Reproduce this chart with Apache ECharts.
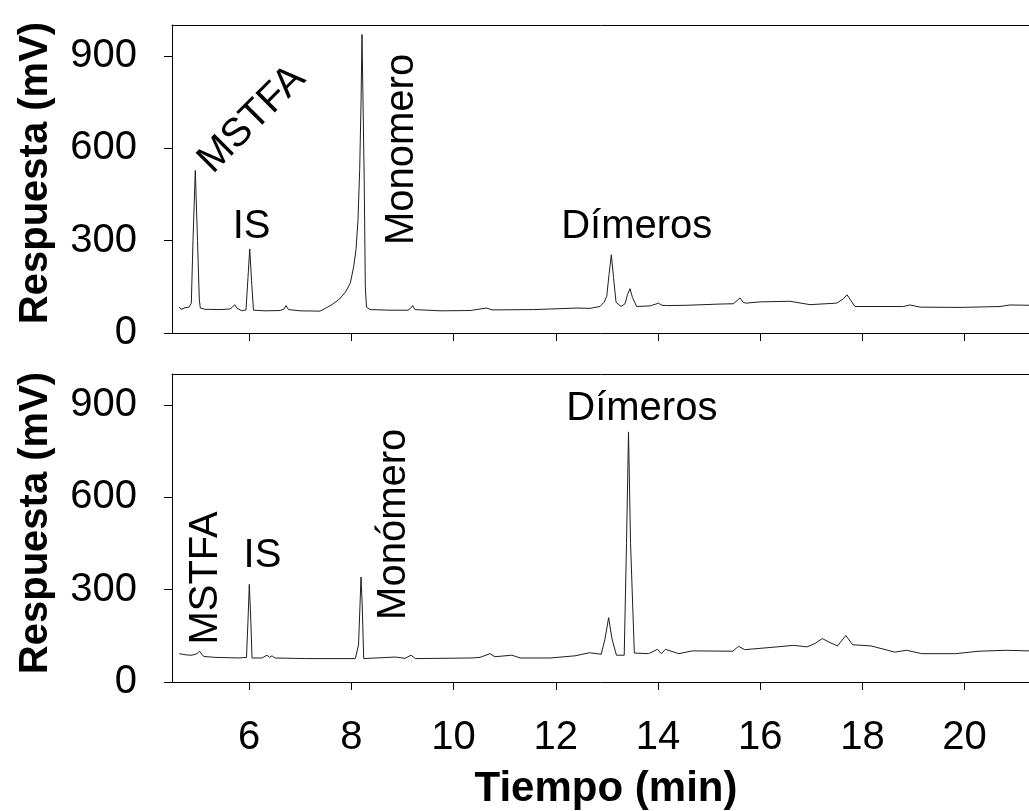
<!DOCTYPE html>
<html><head><meta charset="utf-8">
<script src="https://cdn.jsdelivr.net/npm/echarts@6/dist/echarts.min.js"></script>
<style>html,body{margin:0;padding:0;background:#fff}#c{width:1029px;height:811px}</style>
</head><body><div id="c"></div>
<script>
// ---- data (time in min, response in mV) ----
const topTime = [4.633,4.666,4.744,4.823,4.868,4.901,4.946,4.989,5.024,5.044,5.136,5.429,5.625,5.674,5.717,5.762,5.860,5.938,5.977,6.011,6.046,6.085,6.310,6.604,6.682,6.721,6.770,6.995,7.386,7.490,7.621,7.752,7.881,7.979,8.046,8.091,8.130,8.163,8.189,8.208,8.224,8.251,8.273,8.296,8.365,8.756,9.108,9.157,9.200,9.245,9.734,10.322,10.648,10.752,11.560,12.410,12.670,12.866,12.944,12.997,13.042,13.087,13.130,13.179,13.277,13.355,13.404,13.452,13.501,13.583,13.844,13.942,14.007,14.079,14.171,14.563,15.214,15.474,15.547,15.605,15.664,15.723,15.997,16.584,16.975,17.498,17.621,17.699,17.777,17.855,18.345,18.801,18.932,19.128,19.911,20.694,20.889,21.261];
const topResp = [84,77,82,84,97,300,528,300,110,81,77,76,78,84,92,80,72,75,180,273,170,74,72,73,78,89,76,72,71,80,92,108,132,162,216,271,368,531,747,969,969,500,150,84,76,74,74,80,89,76,72,73,81,75,76,81,80,86,100,119,190,254,180,100,86,95,125,144,115,86,88,93,97,90,89,90,94,95,105,114,100,97,101,103,92,97,110,124,105,86,86,86,91,84,83,86,91,90];

const bottomTime = [4.633,4.764,4.881,4.979,5.028,5.063,5.110,5.331,5.795,5.948,5.977,6.003,6.032,6.056,6.251,6.349,6.398,6.447,6.506,7.099,8.077,8.140,8.169,8.189,8.212,8.241,8.860,9.050,9.167,9.251,10.361,10.517,10.713,10.810,11.140,11.304,11.899,12.376,12.658,12.889,12.963,13.034,13.100,13.187,13.339,13.384,13.423,13.463,13.537,13.813,13.993,14.066,14.144,14.408,14.672,15.465,15.576,15.696,16.191,16.652,16.917,17.073,17.214,17.366,17.511,17.676,17.809,18.171,18.633,18.864,19.161,19.823,20.283,20.811,21.261];
const bottomResp = [92,88,87,92,100,105,83,80,78,80,200,317,200,78,78,87,80,85,78,76,76,120,250,341,250,76,81,77,87,76,78,80,92,82,87,78,78,85,95,90,140,209,140,87,87,450,812,450,94,92,106,92,106,92,101,100,116,105,112,119,114,125,141,128,117,151,121,117,97,103,92,92,100,103,101];

const xTicks = [6,8,10,12,14,16,18,20];
const yTicks = [0,300,600,900];
const X_MIN = 4.49, X_MAX = 21.26, Y_MIN = 0, Y_MAX = 1000;

const topNoteText  = ['MSTFA','IS','Monomero','Dímeros'];
const topNoteTime  = [6.056, 6.047, 8.985, 13.584];
const topNoteResp  = [693, 345, 596, 344];
const topNoteAngle = [45, 0, 90, 0];

const bottomNoteText  = ['MSTFA','IS','Monómero','Dímeros'];
const bottomNoteTime  = [5.15, 6.261, 8.834, 13.684];
const bottomNoteResp  = [338, 409, 512, 888];
const bottomNoteAngle = [90, 0, 90, 0];

const yTitle = 'Respuesta (mV)';
const xTitle = 'Tiempo (min)';

// ---- chart ----
const FONT = "'Liberation Sans', Arial, sans-serif";
const zip = (a, b) => a.map((v, i) => [v, b[i]]);

function bottomAxis(gi, labels) {
  return {
    type: 'value', gridIndex: gi, min: X_MIN, max: X_MAX, position: 'bottom',
    axisLine: { show: true, onZero: false, lineStyle: { color: '#000', width: 1 } },
    axisTick: { show: true, inside: false, length: 8, customValues: xTicks, lineStyle: { color: '#000', width: 1 } },
    axisLabel: { show: labels, customValues: xTicks, fontSize: 40, fontFamily: FONT, color: '#000', margin: 36 },
    splitLine: { show: false }
  };
}
function topAxis(gi) {
  return {
    type: 'value', gridIndex: gi, min: X_MIN, max: X_MAX, position: 'top',
    axisLine: { show: true, onZero: false, lineStyle: { color: '#000', width: 1 } },
    axisTick: { show: false }, axisLabel: { show: false }, splitLine: { show: false }
  };
}
function leftAxis(gi) {
  return {
    type: 'value', gridIndex: gi, min: Y_MIN, max: Y_MAX,
    axisLine: { show: true, onZero: false, lineStyle: { color: '#000', width: 1 } },
    axisTick: { show: true, length: 8, customValues: yTicks, lineStyle: { color: '#000', width: 1 } },
    axisLabel: { customValues: yTicks, fontSize: 40, fontFamily: FONT, color: '#000', margin: 35 },
    splitLine: { show: false }
  };
}
function trace(gi, xi, t, r) {
  return {
    type: 'line', xAxisIndex: xi, yAxisIndex: gi, data: zip(t, r),
    showSymbol: false, symbol: 'none', smooth: false,
    lineStyle: { color: '#1e1e1e', width: 1 }, z: 5, silent: true
  };
}

const chart = echarts.init(document.getElementById('c'), null, { renderer: 'canvas' });
chart.setOption({
  animation: false,
  backgroundColor: '#fff',
  grid: [
    { left: 172, top: 25, right: 0, height: 308 },
    { left: 172, top: 374, right: 0, height: 308 }
  ],
  xAxis: [bottomAxis(0, false), bottomAxis(1, true), topAxis(0), topAxis(1)],
  yAxis: [leftAxis(0), leftAxis(1)],
  series: [trace(0, 0, topTime, topResp), trace(1, 1, bottomTime, bottomResp)]
});

function noteGraphics(gi, texts, times, resps, angles) {
  return texts.map((s, i) => {
    const p = chart.convertToPixel({ gridIndex: gi }, [times[i], resps[i]]);
    return {
      type: 'text', x: p[0], y: p[1], rotation: angles[i] * Math.PI / 180, z: 10,
      style: { text: s, font: '40px ' + FONT, fill: '#000',
               textAlign: 'center', textVerticalAlign: 'middle', align: 'center', verticalAlign: 'middle' }
    };
  });
}
function titleText(s, x, y, rot, size) {
  return {
    type: 'text', x: x, y: y, rotation: rot, z: 10,
    style: { text: s, font: 'bold ' + size + 'px ' + FONT, fill: '#000',
             textAlign: 'center', textVerticalAlign: 'middle', align: 'center', verticalAlign: 'middle' }
  };
}
const g0 = chart.convertToPixel({ gridIndex: 0 }, [X_MIN, (Y_MIN + Y_MAX) / 2]);
const g1 = chart.convertToPixel({ gridIndex: 1 }, [X_MIN, (Y_MIN + Y_MAX) / 2]);
chart.setOption({
  graphic: [].concat(
    noteGraphics(0, topNoteText, topNoteTime, topNoteResp, topNoteAngle),
    noteGraphics(1, bottomNoteText, bottomNoteTime, bottomNoteResp, bottomNoteAngle),
    [
      titleText(yTitle, 36, g0[1] - 6, Math.PI / 2, 40),
      titleText(yTitle, 36, g1[1] - 5, Math.PI / 2, 40),
      titleText(xTitle, 606, 789, 0, 42)
    ]
  )
});
</script></body></html>
